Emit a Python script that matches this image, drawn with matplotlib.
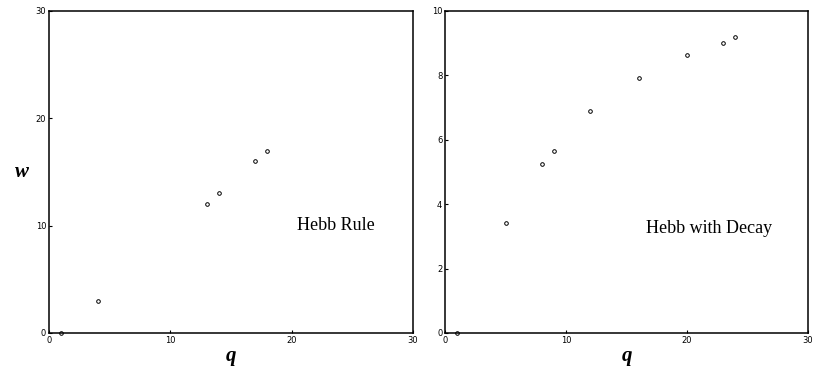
import matplotlib
matplotlib.use("Agg")
import matplotlib.pyplot as plt

# Hebb rule: weight w versus iteration q
hebb_q = [1, 4, 13, 14, 17, 18]
hebb_w = [0, 3, 12, 13, 16, 17]

# Hebb rule with decay
decay_q = [1, 5, 8, 9, 12, 16, 20, 23, 24]
decay_w = [0, 3.42, 5.25, 5.65, 6.9, 7.92, 8.63, 9.0, 9.19]

hebb_yticks = [0, 10, 20, 30]
decay_yticks = [0, 2, 4, 6, 8, 10]
q_ticks = [0, 10, 20, 30]

fig = plt.figure(figsize=(8.13, 3.75), dpi=100)
ax1 = fig.add_axes([0.0603, 0.112, 0.4477, 0.8587])
ax2 = fig.add_axes([0.5474, 0.112, 0.4465, 0.8587])

serif = ["Liberation Serif", "DejaVu Serif"]

for ax, qs, ws, yt, ymax in [(ax1, hebb_q, hebb_w, hebb_yticks, 30),
                             (ax2, decay_q, decay_w, decay_yticks, 10)]:
    ax.plot(qs, ws, linestyle="none", marker="o", markersize=2.6,
            markerfacecolor="white", markeredgecolor="black",
            markeredgewidth=0.7, clip_on=False)
    ax.set_xlim(0, 30)
    ax.set_ylim(0, ymax)
    ax.set_xticks(q_ticks)
    ax.set_yticks(yt)
    ax.tick_params(direction="in", length=2.5, width=0.8, labelsize=6,
                   pad=2, top=False, right=False)
    for s in ax.spines.values():
        s.set_linewidth(1.1)
    ax.set_xlabel("q", fontsize=15, fontstyle="italic", fontweight="bold",
                  family=serif, labelpad=1)

ax1.set_ylabel("w", fontsize=15, fontstyle="italic", fontweight="bold",
               family=serif, rotation=0, labelpad=10, va="center")

ax1.text(20.4, 10, "Hebb Rule", fontsize=13, family=serif,
         va="center", ha="left")
ax2.text(16.6, 3.26, "Hebb with Decay", fontsize=13, family=serif,
         va="center", ha="left")

fig.savefig("out.png", dpi=100)
